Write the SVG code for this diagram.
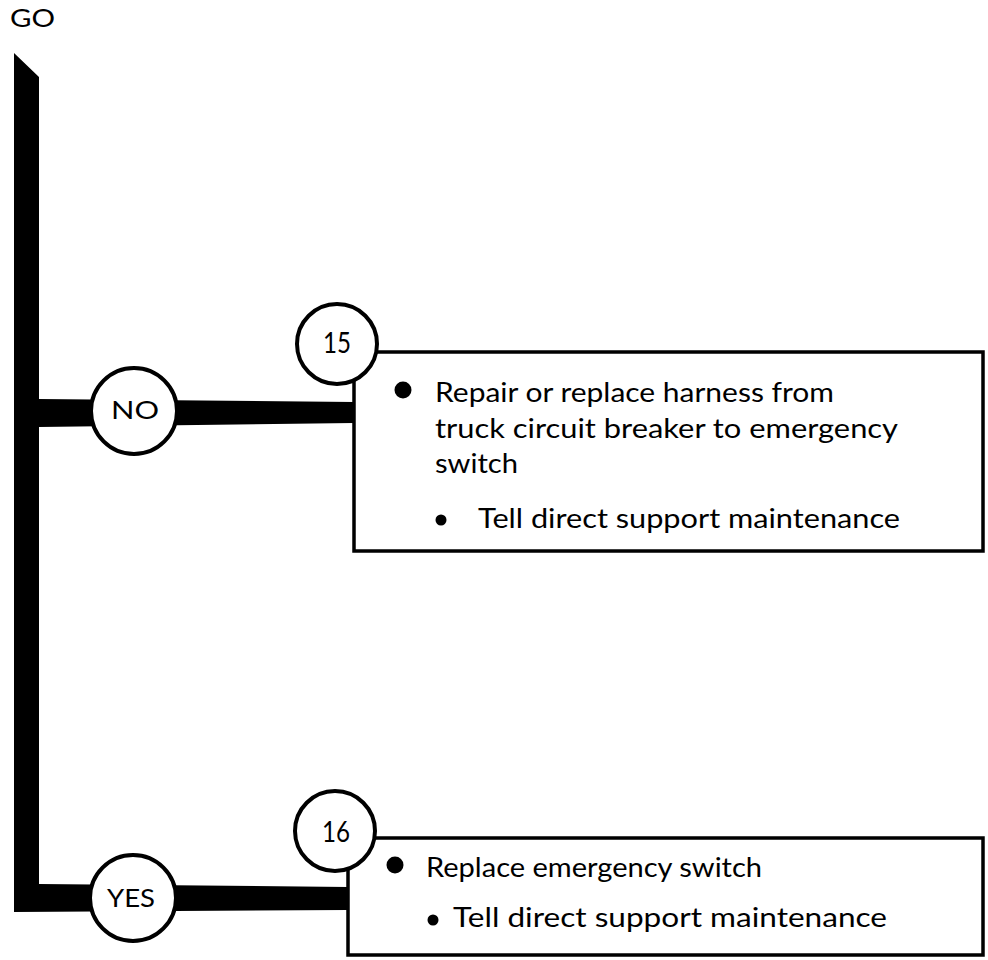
<svg xmlns="http://www.w3.org/2000/svg" width="988" height="960" viewBox="0 0 988 960">
<style>
  .t { font-family: Lato, "Open Sans", "Liberation Sans", sans-serif; fill: #000; }
  .lbl { font-size: 25px; text-anchor: middle; }
  .num { font-size: 28px; text-anchor: middle; }
  .body { font-size: 26px; }
  .node { fill: #fff; stroke: #000; stroke-width: 4; }
  .box { fill: #fff; stroke: #000; stroke-width: 3.5; }
  .bar { fill: #000; }
  .dot { fill: #000; }
</style>
<rect width="988" height="960" fill="#fff"/>
<text id="go" class="t" x="10" y="27" font-size="25" textLength="45" lengthAdjust="spacingAndGlyphs">GO</text>
<g id="connectors">
  <polygon class="bar" points="14,53 39,77 39,884 348,887 348,910 14,912"/>
  <polygon class="bar" points="39,399 354,402 354,423 39,427"/>
</g>
<g id="box15">
  <rect class="box" x="354" y="352" width="629" height="199"/>
  <circle class="dot" cx="403" cy="390" r="8.5"/>
  <text class="t body" x="435" y="402" textLength="399" lengthAdjust="spacingAndGlyphs">Repair or replace harness from</text>
  <text class="t body" x="435" y="438" textLength="463" lengthAdjust="spacingAndGlyphs">truck circuit breaker to emergency</text>
  <text class="t body" x="435" y="473" textLength="83" lengthAdjust="spacingAndGlyphs">switch</text>
  <circle class="dot" cx="441" cy="520" r="5.5"/>
  <text class="t body" x="478" y="528" textLength="422" lengthAdjust="spacingAndGlyphs">Tell direct support maintenance</text>
</g>
<g id="step15">
  <circle class="node" cx="337" cy="344" r="40"/>
  <text class="t num" x="337" y="353" textLength="28" lengthAdjust="spacingAndGlyphs">15</text>
</g>
<g id="no">
  <circle class="node" cx="134" cy="411" r="43"/>
  <text class="t lbl" x="135" y="419" textLength="48" lengthAdjust="spacingAndGlyphs">NO</text>
</g>
<g id="box16">
  <rect class="box" x="348" y="838" width="635" height="117"/>
  <circle class="dot" cx="395" cy="865" r="8.5"/>
  <text class="t body" x="426" y="877" textLength="336" lengthAdjust="spacingAndGlyphs">Replace emergency switch</text>
  <circle class="dot" cx="433" cy="920" r="5.5"/>
  <text class="t body" x="453" y="927" textLength="434" lengthAdjust="spacingAndGlyphs">Tell direct support maintenance</text>
</g>
<g id="step16">
  <circle class="node" cx="335" cy="831" r="40"/>
  <text class="t num" x="336" y="842" textLength="28" lengthAdjust="spacingAndGlyphs">16</text>
</g>
<g id="yes">
  <circle class="node" cx="133" cy="898" r="43"/>
  <text class="t lbl" x="131" y="907" textLength="48" lengthAdjust="spacingAndGlyphs">YES</text>
</g>
</svg>
